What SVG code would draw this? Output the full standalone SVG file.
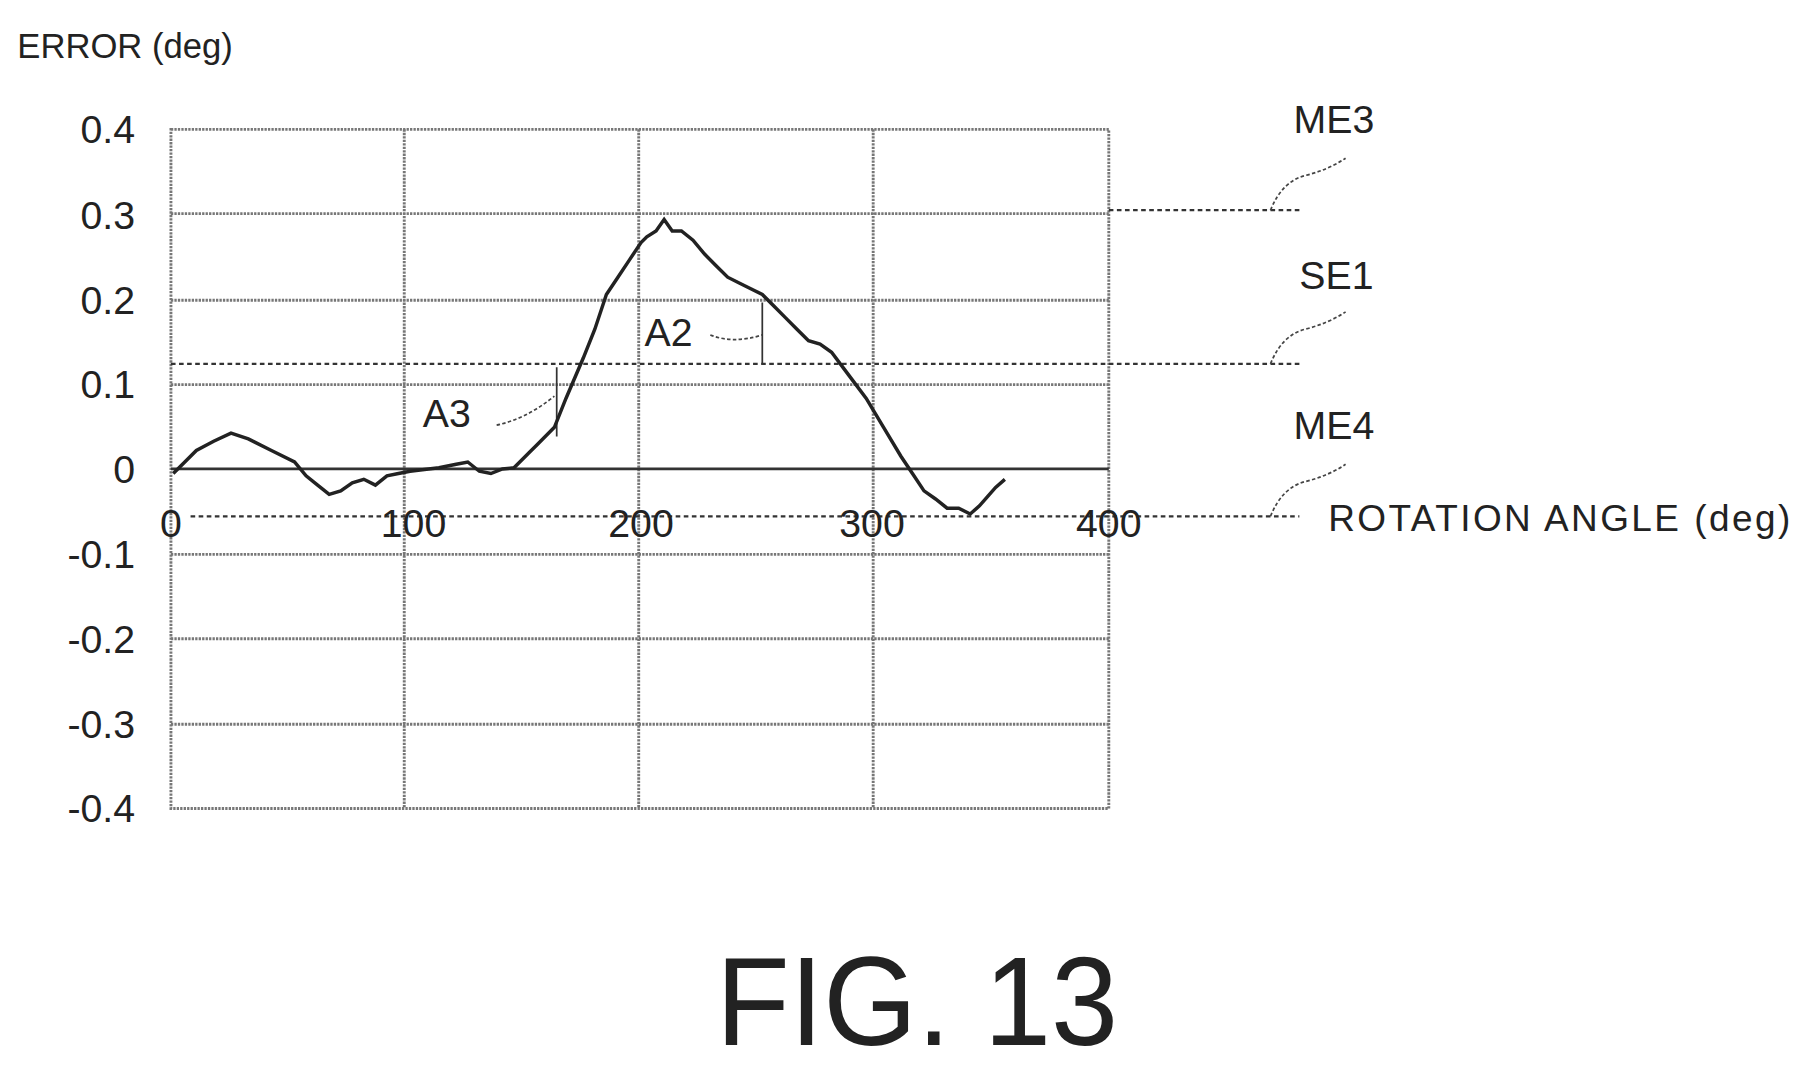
<svg xmlns="http://www.w3.org/2000/svg" width="1802" height="1076" viewBox="0 0 1802 1076">
<style>
.t{font-family:"Liberation Sans",Arial,sans-serif;fill:#222}
.g{stroke:#777;stroke-width:2.5;stroke-dasharray:2 1;fill:none}
.d{stroke:#333;stroke-width:2;stroke-dasharray:4 3;fill:none}
.l{stroke:#444;stroke-width:1.5;stroke-dasharray:3 2;fill:none}
</style>
<rect width="1802" height="1076" fill="#fff"/>
<g transform="scale(1.155)">
<g id="grid">
<rect x="148" y="112" width="812" height="588" class="g"/>
<path class="g" d="M148 185H960M148 260H960M148 333H960M148 480H960M148 553H960M148 627H960M350 112V700M553 112V700M756 112V700"/>
<path d="M148 406H960" stroke="#333" stroke-width="2.5"/>
</g>
<g id="connectors">
<path class="d" d="M960 182H1125M148 315H1125M165 447H1125"/>
<path class="l" d="M1100 182q10-25 30-30t35-15M1100 315q10-25 30-30t35-15M1100 447q10-25 30-30t35-15"/>
<path class="l" d="M615 290q20 8 45 0M430 368q25-5 50-25"/>
<path fill="none" stroke="#333" stroke-width="1.5" d="M660 262V315M482 318V378"/>
</g>
<g id="curve">
<polyline fill="none" stroke="#222" stroke-width="3" points="150,410 160,400 170,390 185,382 200,375 215,380 235,390 255,400 265,412 275,420 285,428 295,425 305,418 315,415 325,420 335,412 345,410 355,408 380,405 395,402 405,400 415,408 425,410 435,406 445,405 458,392 465,385 480,370 490,345 505,310 515,285 525,255 535,240 545,225 555,210 560,205 568,200 575,190 582,200 590,200 600,208 610,220 620,230 630,240 640,245 650,250 660,255 670,265 680,275 690,285 700,295 710,298 720,305 735,325 750,345 765,370 780,395 790,410 800,425 810,432 820,440 830,440 840,445 848,438 855,430 862,422 870,415"/>
</g>
<g id="labels" class="t">
<text x="15" y="50" font-size="30">ERROR (deg)</text>
<g font-size="34" text-anchor="end">
<text x="117" y="124">0.4</text><text x="117" y="198">0.3</text><text x="117" y="272">0.2</text><text x="117" y="345">0.1</text><text x="117" y="418">0</text><text x="117" y="492">-0.1</text><text x="117" y="565">-0.2</text><text x="117" y="639">-0.3</text><text x="117" y="712">-0.4</text>
</g>
<g font-size="34" text-anchor="middle">
<text x="148" y="465">0</text><text x="358" y="465">100</text><text x="555" y="465">200</text><text x="755" y="465">300</text><text x="960" y="465">400</text>
</g>
<text x="1120" y="115" font-size="34">ME3</text>
<text x="1125" y="250" font-size="34">SE1</text>
<text x="1120" y="380" font-size="34">ME4</text>
<text x="1150" y="460" font-size="32" textLength="400">ROTATION ANGLE (deg)</text>
<text x="558" y="300" font-size="34">A2</text>
<text x="366" y="370" font-size="34">A3</text>
<text x="620" y="905" font-size="110" textLength="348" lengthAdjust="spacingAndGlyphs">FIG. 13</text>
</g>
</g>
</svg>
